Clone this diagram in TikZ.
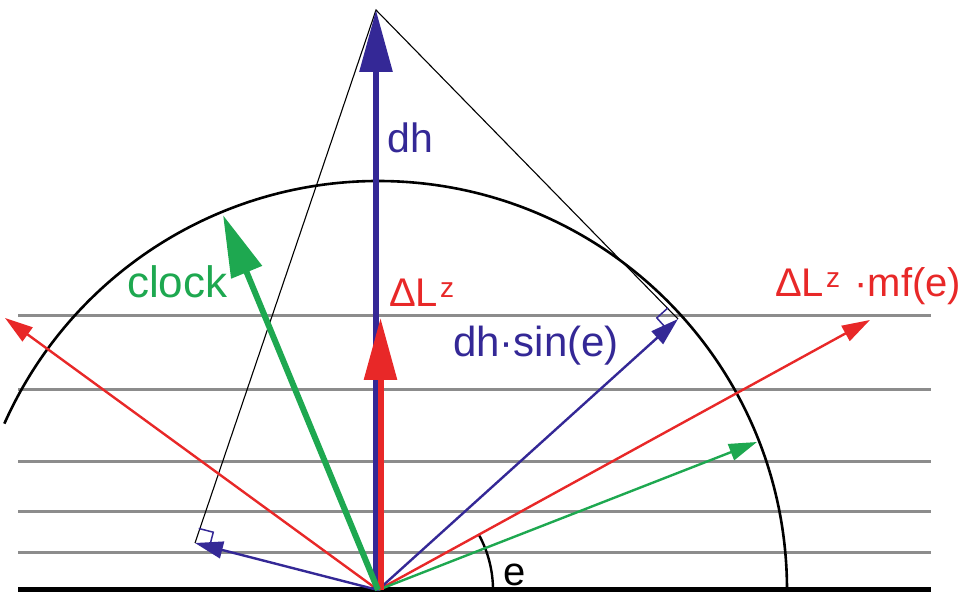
\documentclass[tikz,border=0pt]{standalone}
\usepackage{fontspec}
\setmainfont{Liberation Sans}
\usetikzlibrary{arrows.meta,calc}
\definecolor{cblue}{RGB}{52,40,150}
\definecolor{cred}{RGB}{232,40,40}
\definecolor{cgreen}{RGB}{30,168,80}
\definecolor{cgray}{RGB}{140,140,140}
\begin{document}
\begin{tikzpicture}[x=1pt,y=1pt,
  bigarrow/.style={line width=6pt,-{Triangle[length=62pt,width=32pt]}},
  thinarrow/.style={line width=2.4pt,-{Triangle[length=28pt,width=17pt]}},
  lbl/.style={inner sep=0pt,anchor=base west},
  guide/.style={cgray,line width=3pt},
  marker/.style={cblue,line width=1.5pt}]
\useasboundingbox (0,0) rectangle (966,594);
% origin and tips
\coordinate (O) at (378,4);
\coordinate (Ob) at (376,4);
\coordinate (Or) at (380.5,4);
\coordinate (T) at (376,584);
\coordinate (R1) at (380.5,276);
\coordinate (G1) at (223,379);
\coordinate (R2) at (5,276);
\coordinate (B2) at (195,51);
\coordinate (B3) at (678,275);
\coordinate (R3) at (870,274);
\coordinate (G3) at (757,152);
% horizontal guides
\foreach \yy in {278,204,132,82,41} \draw[guide] (18,\yy) -- (931,\yy);
% baseline
\draw[line width=5pt] (18,4) -- (931,4);
% circle arc
\draw[line width=2.6pt] ($(O)+(409,0)$) arc[start angle=0,end angle=156,radius=409];
% construction triangle
\draw[line width=1.1pt] (B2) -- (T) -- (B3);
% right-angle markers
\coordinate (m3a) at ($(B3)!15pt!(O)$);
\coordinate (m3c) at ($(B3)!15pt!-90:(O)$);
\draw[marker] (m3a) -- ($(m3a)+(m3c)-(B3)$) -- (m3c);
\coordinate (m2a) at ($(B2)!15pt!(O)$);
\coordinate (m2c) at ($(B2)!15pt!90:(O)$);
\draw[marker] (m2a) -- ($(m2a)+(m2c)-(B2)$) -- (m2c);
% angle arc e
\draw[line width=2.4pt] ($(O)+(115,0)$) arc[start angle=0,end angle=28.8,radius=115];
% thin arrows
\draw[thinarrow,cred] (O) -- (R2);
\draw[thinarrow,cred] (O) -- (R3);
\draw[thinarrow,cgreen] (O) -- (G3);
\draw[thinarrow,cblue] (O) -- (B2);
\draw[thinarrow,cblue] (O) -- (B3);
% big arrows
\draw[bigarrow,cblue] (Ob) -- (T);
\draw[bigarrow,cred] (Or) -- (R1);
\draw[bigarrow,cgreen] (O) -- (G1);
% labels
\node[lbl,cblue,font=\fontsize{41}{46}\selectfont] (ldh) at (387,441) {dh};
\node[lbl,cred,font=\fontsize{40}{46}\selectfont] (ldl) at (389,287) {ΔL\kern2pt\textsuperscript{z}};
\node[lbl,cgreen,font=\fontsize{44}{50}\selectfont] (lclock) at (127,296) {clock};
\node[lbl,cblue,font=\fontsize{42}{48}\selectfont] (lsin) at (453,237) {dh·sin(e)};
\node[lbl,cred,font=\fontsize{40}{46}\selectfont] (lmf) at (775,297) {ΔL\kern2pt\textsuperscript{z}\hspace{14pt}·mf(e)};
\node[lbl,black,font=\fontsize{40}{46}\selectfont] (le) at (503,9) {e};
\end{tikzpicture}
\end{document}
